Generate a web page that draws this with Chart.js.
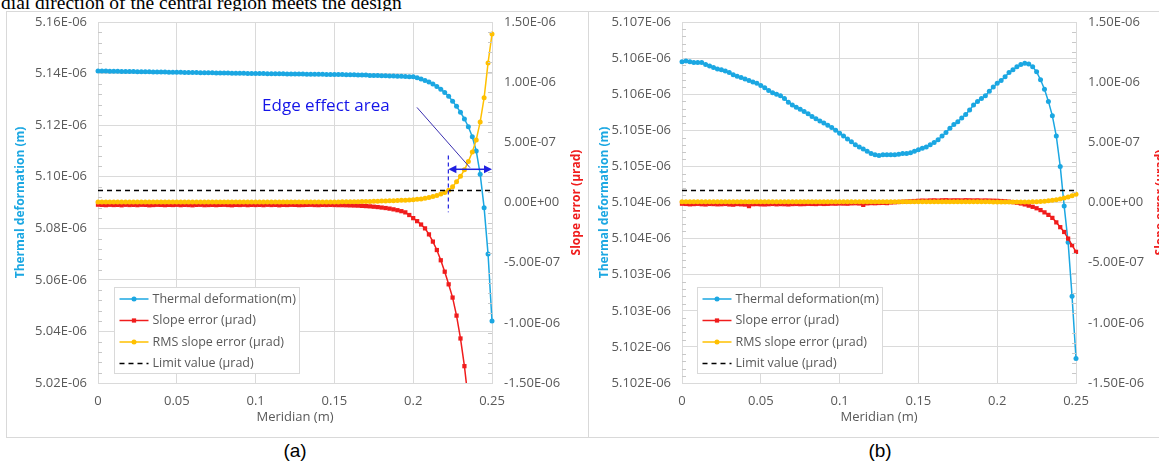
<!DOCTYPE html>
<html>
<head>
<meta charset="utf-8">
<script src="https://cdn.jsdelivr.net/npm/chart.js@4.4.1/dist/chart.umd.min.js"></script>
<style>
html,body{margin:0;padding:0;background:#fff;}
body{width:1159px;height:464px;overflow:hidden;position:relative;}
#topline{position:absolute;left:1px;top:-7px;font-family:"Liberation Serif","Times New Roman",serif;font-size:19.5px;line-height:20px;white-space:nowrap;color:#000;}
.panel{position:absolute;top:11px;height:427px;border:1px solid #d9d9d9;box-sizing:border-box;background:#fff;}
#pa{left:6px;width:584px;}
#pb{left:588px;width:590px;}
.cap{position:absolute;top:440px;font-family:"Liberation Sans",Arial,sans-serif;font-size:19px;color:#000;width:80px;text-align:center;}
canvas{position:absolute;top:0;}
#ca{left:0;}
#cb{left:584px;}
</style>
</head>
<body>
<div id="topline">dial direction of the central region meets the design</div>
<div class="panel" id="pa"></div>
<div class="panel" id="pb"></div>
<canvas id="ca" width="590" height="440"></canvas>
<canvas id="cb" width="575" height="440"></canvas>
<div class="cap" style="left:255px">(a)</div>
<div class="cap" style="left:840px">(b)</div>
<script>
// ---------------- DATA ----------------
// Meridian positions (m)
const meridian = [
0,0.0025,0.005,0.0075,0.01,0.0125,0.015,0.0175,0.02,0.0225,
0.025,0.0275,0.03,0.0325,0.035,0.0375,0.04,0.0425,0.045,0.0475,
0.05,0.0525,0.055,0.0575,0.06,0.0625,0.065,0.0675,0.07,0.0725,
0.075,0.0775,0.08,0.0825,0.085,0.0875,0.09,0.0925,0.095,0.0975,
0.1,0.1025,0.105,0.1075,0.11,0.1125,0.115,0.1175,0.12,0.1225,
0.125,0.1275,0.13,0.1325,0.135,0.1375,0.14,0.1425,0.145,0.1475,
0.15,0.1525,0.155,0.1575,0.16,0.1625,0.165,0.1675,0.17,0.1725,
0.175,0.1775,0.18,0.1825,0.185,0.1875,0.19,0.1925,0.195,0.1975,
0.2,0.2025,0.205,0.2075,0.21,0.2125,0.215,0.2175,0.22,0.2225,
0.225,0.2275,0.23,0.2325,0.235,0.2375,0.24,0.2425,0.245,0.2475,
0.25];

// Panel (a) — values in units of 1E-06
const thermalA = [
5.1410,5.1410,5.1410,5.1409,5.1409,5.1409,5.1408,5.1408,5.1408,5.1408,
5.1407,5.1407,5.1407,5.1407,5.1406,5.1406,5.1406,5.1406,5.1405,5.1405,
5.1405,5.1405,5.1404,5.1404,5.1404,5.1404,5.1403,5.1403,5.1403,5.1403,
5.1402,5.1402,5.1402,5.1402,5.1401,5.1401,5.1401,5.1401,5.1400,5.1400,
5.1400,5.1400,5.1400,5.1399,5.1399,5.1399,5.1399,5.1399,5.1398,5.1398,
5.1398,5.1398,5.1398,5.1397,5.1397,5.1397,5.1397,5.1397,5.1396,5.1396,
5.1396,5.1396,5.1396,5.1395,5.1395,5.1395,5.1394,5.1394,5.1394,5.1393,
5.1393,5.1393,5.1392,5.1392,5.1391,5.1391,5.1390,5.1390,5.1389,5.1388,
5.1388,5.1384,5.1379,5.1373,5.1367,5.1360,5.1350,5.1339,5.1327,5.1312,
5.1293,5.1273,5.1250,5.1224,5.1194,5.1155,5.1100,5.1010,5.0880,5.0700,
5.0440];
const slopeA = [
-0.018,-0.020,-0.022,-0.019,-0.021,-0.020,-0.023,-0.019,-0.021,-0.020,
-0.022,-0.019,-0.020,-0.023,-0.021,-0.019,-0.020,-0.022,-0.020,-0.021,
-0.019,-0.022,-0.020,-0.021,-0.023,-0.020,-0.019,-0.022,-0.021,-0.020,
-0.022,-0.020,-0.019,-0.021,-0.023,-0.020,-0.021,-0.019,-0.022,-0.020,
-0.021,-0.020,-0.022,-0.019,-0.021,-0.020,-0.023,-0.020,-0.021,-0.019,
-0.020,-0.022,-0.021,-0.020,-0.019,-0.021,-0.022,-0.020,-0.021,-0.020,
-0.021,-0.022,-0.022,-0.023,-0.024,-0.025,-0.026,-0.028,-0.030,-0.032,
-0.035,-0.038,-0.042,-0.046,-0.051,-0.057,-0.064,-0.072,-0.082,-0.104,
-0.130,-0.155,-0.183,-0.215,-0.265,-0.325,-0.395,-0.480,-0.575,-0.680,
-0.790,-0.940,-1.130,-1.360,-1.650,-2.000,null,null,null,null,
null];
const rmsA = [
0.004,0.004,0.004,0.004,0.004,0.004,0.004,0.004,0.004,0.004,
0.004,0.004,0.004,0.004,0.004,0.004,0.004,0.004,0.004,0.004,
0.004,0.004,0.004,0.004,0.004,0.004,0.004,0.004,0.004,0.004,
0.004,0.004,0.004,0.004,0.004,0.004,0.004,0.004,0.004,0.004,
0.004,0.004,0.004,0.004,0.004,0.004,0.004,0.004,0.004,0.004,
0.004,0.004,0.004,0.004,0.004,0.004,0.004,0.004,0.005,0.005,
0.005,0.005,0.006,0.006,0.006,0.007,0.007,0.008,0.008,0.009,
0.010,0.011,0.012,0.013,0.014,0.015,0.016,0.018,0.019,0.021,
0.023,0.026,0.030,0.035,0.041,0.049,0.058,0.070,0.084,0.101,
0.130,0.172,0.218,0.272,0.340,0.420,0.520,0.670,0.870,1.160,
1.400];

// Panel (b) — values in units of 1E-06
const thermalB = [
5.10645,5.10646,5.10645,5.10644,5.10644,5.10644,5.10641,5.10639,5.10637,5.10635,
5.10634,5.10632,5.10630,5.10627,5.10625,5.10623,5.10621,5.10619,5.10617,5.10615,
5.10612,5.10609,5.10605,5.10602,5.10600,5.10598,5.10594,5.10589,5.10585,5.10582,
5.10579,5.10576,5.10573,5.10569,5.10566,5.10563,5.10560,5.10557,5.10554,5.10550,
5.10546,5.10542,5.10538,5.10534,5.10530,5.10527,5.10524,5.10521,5.10518,5.10516,
5.10515,5.10516,5.10516,5.10516,5.10516,5.10517,5.10518,5.10518,5.10519,5.10521,
5.10523,5.10525,5.10527,5.10530,5.10533,5.10537,5.10542,5.10547,5.10553,5.10558,
5.10562,5.10567,5.10572,5.10578,5.10585,5.10590,5.10594,5.10598,5.10604,5.10610,
5.10615,5.10619,5.10624,5.10630,5.10634,5.10638,5.10641,5.10643,5.10642,5.10638,
5.10631,5.10620,5.10607,5.10590,5.10570,5.10542,5.10500,5.10445,5.10395,5.10320,
5.10234];
const slopeB = [
-0.010,-0.012,-0.015,-0.013,-0.011,-0.014,-0.016,-0.012,-0.013,-0.015,
-0.014,-0.012,-0.016,-0.018,-0.013,-0.015,-0.017,-0.030,-0.014,-0.013,
-0.015,-0.016,-0.014,-0.012,-0.015,-0.013,-0.014,-0.016,-0.013,-0.012,
-0.014,-0.013,-0.011,-0.012,-0.013,-0.010,-0.012,-0.011,-0.009,-0.010,
-0.008,-0.009,-0.010,-0.007,-0.006,-0.008,-0.020,-0.007,-0.005,-0.006,
-0.004,-0.003,-0.005,0.000,0.002,0.004,0.006,0.008,0.010,0.012,
0.014,0.016,0.015,0.017,0.018,0.016,0.018,0.019,0.017,0.018,
0.018,0.017,0.019,0.018,0.017,0.018,0.016,0.017,0.016,0.015,
0.014,0.012,0.010,0.007,0.003,-0.002,-0.008,-0.016,-0.026,-0.036,
-0.048,-0.063,-0.082,-0.103,-0.128,-0.165,-0.205,-0.245,-0.300,-0.355,
-0.410];
const rmsB = [
0.006,0.006,0.006,0.006,0.006,0.006,0.006,0.006,0.006,0.006,
0.006,0.006,0.006,0.006,0.006,0.006,0.006,0.006,0.006,0.006,
0.006,0.006,0.006,0.006,0.006,0.006,0.006,0.006,0.006,0.006,
0.006,0.006,0.006,0.006,0.006,0.006,0.006,0.006,0.006,0.006,
0.006,0.006,0.006,0.006,0.006,0.006,0.006,0.006,0.006,0.006,
0.006,0.006,0.006,0.006,0.006,0.006,0.006,0.006,0.006,0.006,
0.006,0.006,0.006,0.006,0.006,0.006,0.006,0.006,0.006,0.006,
0.006,0.006,0.006,0.006,0.006,0.006,0.006,0.006,0.006,0.005,
0.005,0.005,0.004,0.004,0.004,0.004,0.004,0.005,0.005,0.006,
0.007,0.009,0.011,0.014,0.018,0.023,0.029,0.037,0.046,0.056,
0.068];

// Limit value (1E-06 µrad)
const limitX = [0, 0.25];
const limitY = [0.1, 0.1];

const legendLabels = ['Thermal deformation(m)','Slope error (µrad)','RMS slope error (µrad)','Limit value (µrad)'];

// Tick values & labels
const xTickVals = [0,0.05,0.1,0.15,0.2,0.25];
const xTickLabels = ['0','0.05','0.1','0.15','0.2','0.25'];
const leftTickValsA = [5.02,5.04,5.06,5.08,5.10,5.12,5.14,5.16];
const leftTickLabelsA = ['5.02E-06','5.04E-06','5.06E-06','5.08E-06','5.10E-06','5.12E-06','5.14E-06','5.16E-06'];
const leftTickValsB = [5.1020,5.1025,5.1030,5.1035,5.1040,5.1045,5.1050,5.1055,5.1060,5.1065,5.1070];
const leftTickLabelsB = ['5.102E-06','5.102E-06','5.103E-06','5.103E-06','5.104E-06','5.104E-06','5.105E-06','5.105E-06','5.106E-06','5.106E-06','5.107E-06'];
const rightTickVals = [-1.5,-1,-0.5,0,0.5,1,1.5];
const rightTickLabels = ['-1.50E-06','-1.00E-06','-5.00E-07','0.00E+00','5.00E-07','1.00E-06','1.50E-06'];

// ---------------- STYLE ----------------
const FONT = '"Open Sans","Noto Sans",sans-serif';
const BLUE = '#1ba7e2', RED = '#f01c1c', ORANGE = '#ffc000', GRID = '#dadada', TXT = '#595959';

const pts = (xs, ys) => xs.map((x, i) => ({x, y: ys[i]}));

const minorTicks = {
  id: 'minorTicks',
  afterDraw(chart, args, o) {
    const ctx = chart.ctx, ca = chart.chartArea;
    ctx.save(); ctx.strokeStyle = '#c8c8c8'; ctx.lineWidth = 1;
    [['yL', o.left, -1], ['yR', o.right, 1]].forEach(([id, n, side]) => {
      const s = chart.scales[id], t = s.ticks;
      for (let i = 0; i < t.length - 1; i++) {
        for (let k = 1; k < n; k++) {
          const v = t[i].value + (t[i + 1].value - t[i].value) * k / n;
          const py = Math.round(s.getPixelForValue(v)) + 0.5;
          const x0 = side < 0 ? ca.left : ca.right - 4;
          ctx.beginPath(); ctx.moveTo(x0, py); ctx.lineTo(x0 + 4, py); ctx.stroke();
        }
      }
    });
    ctx.restore();
  }
};

const sideTitle = {
  id: 'sideTitle',
  afterDraw(chart, args, o) {
    const ctx = chart.ctx, ca = chart.chartArea;
    ctx.save();
    ctx.translate(o.x, (ca.top + ca.bottom) / 2);
    ctx.rotate(-Math.PI / 2);
    ctx.font = 'bold 12px ' + FONT;
    ctx.fillStyle = o.color; ctx.textAlign = 'center'; ctx.textBaseline = 'middle';
    ctx.fillText(o.text, 0, 0);
    ctx.restore();
  }
};

const boxLegend = {
  id: 'boxLegend',
  afterDraw(chart, args, o) {
    const ctx = chart.ctx, ca = chart.chartArea;
    const x0 = Math.round(ca.left + o.dx) + 0.5, y0 = Math.round(ca.bottom - o.up) + 0.5;
    ctx.save();
    ctx.fillStyle = '#fff'; ctx.fillRect(x0, y0, o.w, o.h);
    ctx.strokeStyle = '#d9d9d9'; ctx.lineWidth = 1; ctx.strokeRect(x0, y0, o.w, o.h);
    chart.data.datasets.forEach((ds, i) => {
      const yy = y0 + o.first + i * o.step;
      ctx.strokeStyle = ds.borderColor; ctx.lineWidth = ds.borderWidth;
      ctx.setLineDash(ds.borderDash || []);
      ctx.beginPath(); ctx.moveTo(x0 + 5, yy); ctx.lineTo(x0 + 34, yy); ctx.stroke();
      ctx.setLineDash([]);
      if (ds.pointRadius > 0) {
        ctx.fillStyle = ds.backgroundColor;
        const r = ds.pointRadius, cx = x0 + 19.5;
        if (ds.pointStyle === 'rect') { const s = r / Math.SQRT2; ctx.fillRect(cx - s, yy - s, 2 * s, 2 * s); }
        else { ctx.beginPath(); ctx.arc(cx, yy, r, 0, Math.PI * 2); ctx.fill(); }
      }
      ctx.fillStyle = TXT; ctx.font = '12.5px ' + FONT; ctx.textAlign = 'left'; ctx.textBaseline = 'middle';
      ctx.fillText(ds.label, x0 + 38, yy);
    });
    ctx.restore();
  }
};

const edgeNote = {
  id: 'edgeNote',
  afterDatasetsDraw(chart, args, o) {
    if (!o.show) return;
    const ctx = chart.ctx, X = chart.scales.x, Y = chart.scales.yR;
    const px = v => X.getPixelForValue(v), py = v => Y.getPixelForValue(v);
    ctx.save();
    ctx.font = '17px ' + FONT; ctx.fillStyle = '#1515e8'; ctx.textAlign = 'left'; ctx.textBaseline = 'middle';
    ctx.fillText(o.text, px(o.textAt[0]), py(o.textAt[1]));
    ctx.strokeStyle = '#3a2fb0'; ctx.lineWidth = 1;
    ctx.beginPath(); ctx.moveTo(px(o.leader[0]), py(o.leader[1])); ctx.lineTo(px(o.leader[2]), py(o.leader[3])); ctx.stroke();
    ctx.strokeStyle = '#2020e0'; ctx.lineWidth = 1.2; ctx.setLineDash([4, 3]);
    ctx.beginPath(); ctx.moveTo(px(o.edgeX), py(o.vTop)); ctx.lineTo(px(o.edgeX), py(o.vBottom)); ctx.stroke();
    ctx.setLineDash([]);
    const ya = py(o.arrowY), xa = px(o.edgeX), xb = px(o.arrowEnd);
    ctx.lineWidth = 1.5; ctx.strokeStyle = '#2020e0'; ctx.fillStyle = '#2020e0';
    ctx.beginPath(); ctx.moveTo(xa + 6, ya); ctx.lineTo(xb - 6, ya); ctx.stroke();
    ctx.beginPath(); ctx.moveTo(xa, ya); ctx.lineTo(xa + 8, ya - 4); ctx.lineTo(xa + 8, ya + 4); ctx.closePath(); ctx.fill();
    ctx.beginPath(); ctx.moveTo(xb, ya); ctx.lineTo(xb - 8, ya - 4); ctx.lineTo(xb - 8, ya + 4); ctx.closePath(); ctx.fill();
    ctx.restore();
  }
};

function makeChart(id, cfg) {
  return new Chart(document.getElementById(id), {
    type: 'line',
    data: {
      datasets: [
        {label: legendLabels[0], data: pts(meridian, cfg.thermal), yAxisID: 'yL', borderColor: BLUE, backgroundColor: BLUE,
         borderWidth: 1.5, pointRadius: 2.5, pointStyle: 'circle', pointBorderWidth: 0, order: 4, clip: {left: 4, right: 4, top: 4, bottom: 0}},
        {label: legendLabels[1], data: pts(meridian, cfg.slope), yAxisID: 'yR', borderColor: RED, backgroundColor: RED,
         borderWidth: 1.5, pointRadius: 3, pointStyle: 'rect', pointBorderWidth: 0, order: 3, clip: {left: 4, right: 4, top: 4, bottom: 0}},
        {label: legendLabels[2], data: pts(meridian, cfg.rms), yAxisID: 'yR', borderColor: ORANGE, backgroundColor: ORANGE,
         borderWidth: 1.5, pointRadius: 2.5, pointStyle: 'circle', pointBorderWidth: 0, order: 2, clip: {left: 4, right: 4, top: 4, bottom: 0}},
        {label: legendLabels[3], data: pts(limitX, limitY), yAxisID: 'yR', borderColor: '#000', backgroundColor: '#000',
         borderWidth: 1.6, borderDash: [5, 4], pointRadius: 0, order: 1}
      ]
    },
    options: {
      responsive: false, animation: false, devicePixelRatio: 1, events: [],
      layout: {padding: {top: 22, left: 0, right: 0, bottom: 0}},
      plugins: {
        legend: {display: false}, tooltip: {enabled: false},
        minorTicks: {left: cfg.minorLeft, right: 6},
        sideTitle: {x: 577, text: 'Slope error (µrad)', color: RED},
        boxLegend: {dx: cfg.legendDx, up: 96, w: 185, h: 86, first: 11.5, step: 21.5},
        edgeNote: cfg.note
      },
      scales: {
        x: {
          type: 'linear', min: 0, max: 0.25,
          afterBuildTicks: s => { s.ticks = xTickVals.map(v => ({value: v})); },
          afterFit: s => { s.height = 57; },
          ticks: {callback: (v, i) => xTickLabels[i], color: TXT, font: {family: FONT, size: 13}, padding: 10, maxRotation: 0, autoSkip: false},
          grid: {color: GRID, drawTicks: false},
          border: {color: GRID},
          title: {display: true, text: 'Meridian (m)', color: TXT, font: {family: FONT, size: 13}, padding: {top: 0, bottom: 15}}
        },
        yL: {
          type: 'linear', position: 'left', min: cfg.leftVals[0], max: cfg.leftVals[cfg.leftVals.length - 1],
          afterBuildTicks: s => { s.ticks = cfg.leftVals.map(v => ({value: v})); },
          afterFit: s => { s.width = 98; },
          ticks: {callback: (v, i) => cfg.leftLabels[i], color: TXT, font: {family: FONT, size: 13}, padding: 11, autoSkip: false},
          grid: {color: GRID, drawTicks: false},
          border: {color: GRID},
          title: {display: true, text: 'Thermal deformation (m)', color: BLUE, font: {family: FONT, size: 12, weight: 'bold'}, padding: {top: 13, bottom: 0}}
        },
        yR: {
          type: 'linear', position: 'right', min: -1.5, max: 1.5,
          afterBuildTicks: s => { s.ticks = rightTickVals.map(v => ({value: v})); },
          afterFit: s => { s.width = cfg.rightWidth; },
          ticks: {callback: (v, i) => rightTickLabels[i], color: TXT, font: {family: FONT, size: 13}, padding: 12, autoSkip: false},
          grid: {drawOnChartArea: false, drawTicks: false},
          border: {color: GRID}
        }
      }
    },
    plugins: [minorTicks, sideTitle, boxLegend, edgeNote]
  });
}

makeChart('ca', {
  thermal: thermalA, slope: slopeA, rms: rmsA,
  leftVals: leftTickValsA, leftLabels: leftTickLabelsA, minorLeft: 5, rightWidth: 98, legendDx: 16,
  note: {show: true, text: 'Edge effect area', textAt: [0.1041, 0.80],
         leader: [0.2024, 0.79, 0.2360, 0.29], edgeX: 0.2223, vTop: 0.39, vBottom: -0.08,
         arrowY: 0.276, arrowEnd: 0.25}
});
makeChart('cb', {
  thermal: thermalB, slope: slopeB, rms: rmsB,
  leftVals: leftTickValsB, leftLabels: leftTickLabelsB, minorLeft: 5, rightWidth: 83, legendDx: 15,
  note: {show: false}
});
</script>
</body>
</html>
